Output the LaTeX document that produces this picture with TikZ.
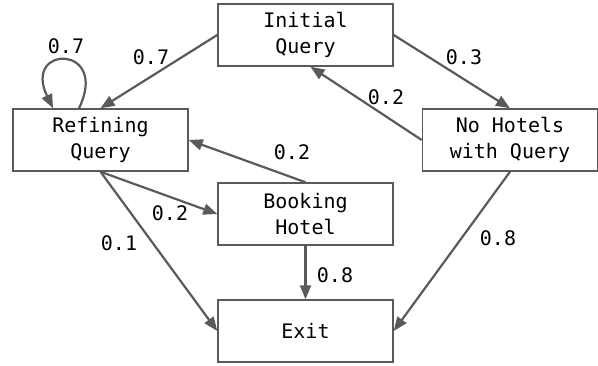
\documentclass[tikz,border=0pt]{standalone}
\usepackage{fontspec}
\setmonofont{DejaVu Sans Mono}
\usetikzlibrary{arrows.meta}
\definecolor{edgegray}{HTML}{5A5A5A}
\begin{document}
\begin{tikzpicture}[x=1pt,y=-1pt,
  state/.style={draw=edgegray, line width=1.5pt, rectangle, minimum width=175pt, minimum height=62pt, inner sep=0pt, align=center, font=\ttfamily\fontsize{20}{26}\selectfont, text=black},
  lbl/.style={font=\ttfamily\fontsize{20}{24}\selectfont, inner sep=0pt, text=black},
  arr/.style={draw=edgegray, line width=2.2pt, -{Triangle[length=14pt,width=11pt]}}]
\useasboundingbox (0,0) rectangle (598,365);
\node[state] (init) at (305.5,35) {Initial\\Query};
\node[state] (ref) at (100.5,140) {Refining\\Query};
\node[state] (nh) at (510,140) {No Hotels\\with Query};
\node[state] (book) at (305.5,214) {Booking\\Hotel};
\node[state] (exit) at (305.5,331) {Exit};
\draw[arr] ([xshift=-21.5pt]ref.north) .. controls +(31,-64) and +(-31,-64) .. ([xshift=-47.5pt]ref.north);
\draw[arr] (init.west) -- (ref.north);
\draw[arr] (init.east) -- (nh.north);
\draw[arr] (nh.west) -- ([xshift=5pt]init.south);
\draw[arr] (book.north) -- (ref.east);
\draw[arr] (ref.south) -- (book.west);
\draw[arr] (ref.south) -- (exit.west);
\draw[arr] (book.south) -- (exit.north);
\draw[arr] (nh.south) -- (exit.east);
\node[lbl] (l1) at (66,46) {0.7};
\node[lbl] (l2) at (151,57) {0.7};
\node[lbl] (l3) at (464,57) {0.3};
\node[lbl] (l4) at (386,97) {0.2};
\node[lbl] (l5) at (292,152) {0.2};
\node[lbl] (l6) at (170,213) {0.2};
\node[lbl] (l7) at (119,243) {0.1};
\node[lbl] (l8) at (335,275) {0.8};
\node[lbl] (l9) at (498,238) {0.8};
\end{tikzpicture}
\end{document}
